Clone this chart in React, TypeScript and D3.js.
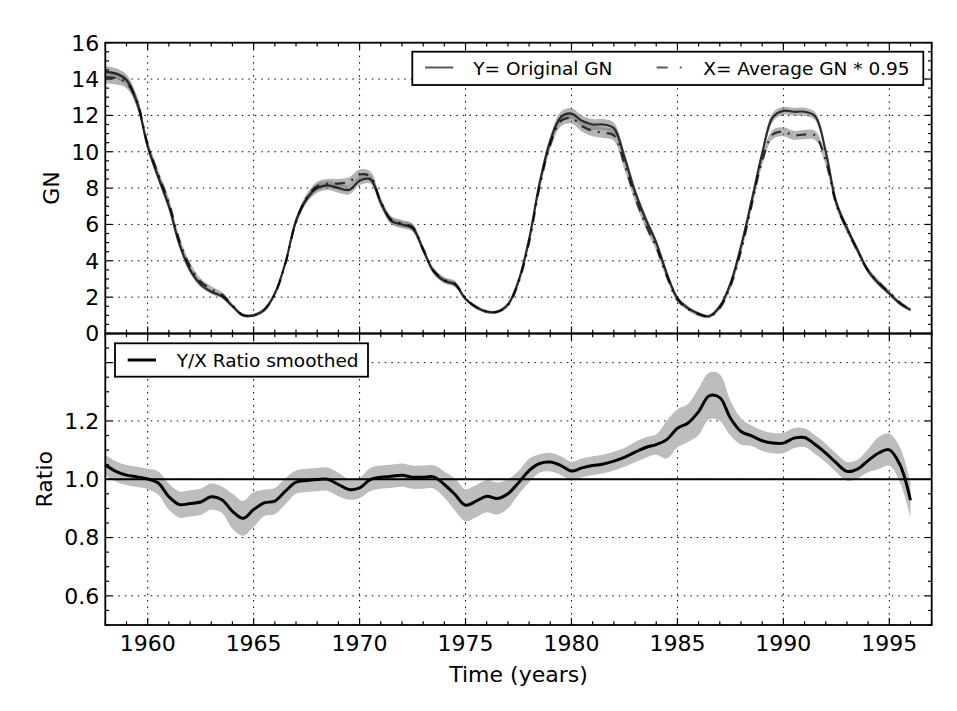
import React, { useRef, useEffect } from 'react';
import * as d3 from 'd3';

// half-year sampling of the smoothed series
const years = [
    1958.0, 1958.5, 1959.0, 1959.5, 1960.0, 1960.5, 1961.0, 1961.5, 1962.0, 1962.5,
    1963.0, 1963.5, 1964.0, 1964.5, 1965.0, 1965.5, 1966.0, 1966.5, 1967.0, 1967.5,
    1968.0, 1968.5, 1969.0, 1969.5, 1970.0, 1970.5, 1971.0, 1971.5, 1972.0, 1972.5,
    1973.0, 1973.5, 1974.0, 1974.5, 1975.0, 1975.5, 1976.0, 1976.5, 1977.0, 1977.5,
    1978.0, 1978.5, 1979.0, 1979.5, 1980.0, 1980.5, 1981.0, 1981.5, 1982.0, 1982.5,
    1983.0, 1983.5, 1984.0, 1984.5, 1985.0, 1985.5, 1986.0, 1986.5, 1987.0, 1987.5,
    1988.0, 1988.5, 1989.0, 1989.5, 1990.0, 1990.5, 1991.0, 1991.5, 1992.0, 1992.5,
    1993.0, 1993.5, 1994.0, 1994.5, 1995.0, 1995.5, 1996.0,
];

// Y = original GN
const gnOrig = [
    14.4, 14.3, 13.95, 12.7, 10.3, 8.6, 7.0, 4.9, 3.5, 2.7,
    2.3, 2.05, 1.5, 1.0, 1.0, 1.3, 2.2, 3.9, 6.2, 7.4,
    8.0, 8.15, 8.0, 7.9, 8.4, 8.5, 7.2, 6.2, 6.0, 5.8,
    4.6, 3.4, 2.9, 2.7, 1.9, 1.45, 1.2, 1.2, 1.6, 2.9,
    5.2, 8.3, 10.6, 11.9, 12.1, 11.7, 11.5, 11.5, 11.3, 9.7,
    7.8, 6.3, 5.0, 3.3, 1.95, 1.4, 1.1, 0.95, 1.5, 2.75,
    4.8, 7.3, 9.9, 11.9, 12.25, 12.2, 12.2, 11.95, 10.0, 7.2,
    5.8, 4.6, 3.45, 2.75, 2.2, 1.65, 1.3,
];
const gnOrigErr = [
    0.3, 0.3, 0.3, 0.3, 0.25, 0.25, 0.25, 0.2, 0.18, 0.15,
    0.12, 0.12, 0.1, 0.08, 0.08, 0.1, 0.12, 0.15, 0.2, 0.22,
    0.25, 0.25, 0.25, 0.25, 0.25, 0.25, 0.22, 0.2, 0.2, 0.2,
    0.18, 0.15, 0.15, 0.15, 0.1, 0.1, 0.08, 0.08, 0.1, 0.15,
    0.2, 0.25, 0.28, 0.3, 0.3, 0.3, 0.3, 0.3, 0.3, 0.28,
    0.25, 0.22, 0.2, 0.18, 0.12, 0.1, 0.08, 0.08, 0.1, 0.15,
    0.2, 0.22, 0.25, 0.25, 0.22, 0.22, 0.22, 0.22, 0.25, 0.22,
    0.2, 0.18, 0.15, 0.15, 0.12, 0.1, 0.08,
];

// X = average GN * 0.95
const gnAvg = [
    14.1, 14.05, 13.8, 12.75, 10.4, 8.75, 7.2, 5.1, 3.7, 2.85,
    2.45, 2.15, 1.55, 1.02, 1.0, 1.3, 2.15, 3.85, 6.15, 7.45,
    8.1, 8.25, 8.25, 8.35, 8.75, 8.65, 7.25, 6.25, 6.05, 5.85,
    4.65, 3.45, 2.95, 2.75, 1.95, 1.45, 1.2, 1.2, 1.55, 2.8,
    5.0, 8.1, 10.4, 11.7, 11.85, 11.4, 11.15, 11.05, 10.9, 9.3,
    7.5, 6.0, 4.75, 3.15, 1.85, 1.35, 1.05, 0.95, 1.4, 2.6,
    4.55, 7.05, 9.5, 10.95, 11.1, 10.9, 10.95, 10.9, 9.5, 7.1,
    5.75, 4.55, 3.45, 2.8, 2.25, 1.7, 1.3,
];
const gnAvgErr = [
    0.35, 0.35, 0.3, 0.3, 0.25, 0.25, 0.25, 0.22, 0.2, 0.17,
    0.15, 0.14, 0.1, 0.08, 0.08, 0.1, 0.12, 0.15, 0.2, 0.22,
    0.25, 0.25, 0.25, 0.25, 0.28, 0.28, 0.22, 0.2, 0.2, 0.2,
    0.18, 0.15, 0.15, 0.15, 0.1, 0.1, 0.08, 0.08, 0.1, 0.15,
    0.2, 0.25, 0.28, 0.3, 0.3, 0.3, 0.3, 0.3, 0.3, 0.28,
    0.25, 0.22, 0.2, 0.18, 0.12, 0.1, 0.1, 0.1, 0.1, 0.15,
    0.2, 0.22, 0.25, 0.25, 0.25, 0.25, 0.25, 0.25, 0.25, 0.22,
    0.2, 0.18, 0.15, 0.15, 0.12, 0.1, 0.08,
];

// Y/X ratio, smoothed
const ratio = [
    1.05, 1.027, 1.014, 1.008, 1.001, 0.987, 0.94, 0.913, 0.917, 0.922,
    0.94, 0.93, 0.89, 0.866, 0.896, 0.919, 0.925, 0.959, 0.99, 0.996,
    0.999, 1.0, 0.982, 0.965, 0.97, 0.999, 1.007, 1.01, 1.014, 1.007,
    1.007, 1.008, 0.982, 0.948, 0.911, 0.925, 0.942, 0.934, 0.95, 0.988,
    1.03, 1.054, 1.059, 1.047, 1.028, 1.039, 1.047, 1.052, 1.062, 1.075,
    1.093, 1.109, 1.119, 1.136, 1.175, 1.193, 1.232, 1.286, 1.28, 1.21,
    1.164, 1.149, 1.132, 1.124, 1.124, 1.141, 1.143, 1.119, 1.09, 1.056,
    1.027, 1.035, 1.064, 1.09, 1.101, 1.05, 0.928,
];
const ratioErr = [
    0.035, 0.035, 0.035, 0.035, 0.035, 0.04, 0.045, 0.045, 0.045, 0.045,
    0.045, 0.045, 0.06, 0.06, 0.06, 0.045, 0.045, 0.045, 0.04, 0.04,
    0.04, 0.04, 0.04, 0.035, 0.035, 0.04, 0.04, 0.04, 0.04, 0.04,
    0.04, 0.04, 0.045, 0.055, 0.055, 0.055, 0.055, 0.055, 0.05, 0.04,
    0.04, 0.032, 0.032, 0.032, 0.032, 0.032, 0.032, 0.032, 0.032, 0.032,
    0.035, 0.035, 0.035, 0.065, 0.065, 0.065, 0.08, 0.08, 0.08, 0.06,
    0.045, 0.035, 0.035, 0.035, 0.035, 0.035, 0.032, 0.032, 0.032, 0.032,
    0.032, 0.032, 0.04, 0.055, 0.055, 0.06, 0.06,
];

const xMajor = [1960, 1965, 1970, 1975, 1980, 1985, 1990, 1995];
const xMinor = d3.range(1958, 1998, 1);
const gnMajor = [0, 2, 4, 6, 8, 10, 12, 14, 16];
const gnMinor = d3.range(0, 16.01, 0.5);
const ratioMajor = [0.6, 0.8, 1.0, 1.2, 1.4];
const ratioLabels = [0.6, 0.8, 1.0, 1.2];
const ratioMinor = d3.range(0.5, 1.501, 0.05);

const FONT = 'DejaVu Sans, sans-serif';

const App: React.FC = () => {
    const svgRef = useRef<SVGSVGElement | null>(null);

    useEffect(() => {
        const svg = d3.select(svgRef.current);
        svg.selectAll('*').remove();

        const left = 105.3, right = 931.7;
        const top1 = 42.7, bot1 = 333.5, top2 = 333.5, bot2 = 625;

        const x = d3.scaleLinear().domain([1958, 1997]).range([left, right]);
        const yGn = d3.scaleLinear().domain([0, 16]).range([bot1, top1]);
        const yRatio = d3.scaleLinear().domain([0.5, 1.5]).range([bot2, top2]);

        const drawGrid = (y: d3.ScaleLinear<number, number>, yTicks: number[], top: number, bot: number) => {
            const g = svg.append('g')
                .attr('stroke', '#000')
                .attr('stroke-width', 1)
                .attr('stroke-dasharray', '1.5,5');
            xMajor.forEach(v => {
                g.append('line').attr('x1', x(v)).attr('x2', x(v)).attr('y1', top).attr('y2', bot);
            });
            yTicks.forEach(v => {
                g.append('line').attr('x1', left).attr('x2', right).attr('y1', y(v)).attr('y2', y(v));
            });
        };

        const drawFrame = (y: d3.ScaleLinear<number, number>, yMaj: number[], yMin: number[], top: number, bot: number) => {
            const g = svg.append('g').attr('stroke', '#000').attr('stroke-width', 1.2);
            const tick = (x1: number, y1: number, x2: number, y2: number) =>
                g.append('line').attr('x1', x1).attr('y1', y1).attr('x2', x2).attr('y2', y2);
            xMinor.forEach(v => {
                const len = xMajor.includes(v) ? 7 : 3.7;
                tick(x(v), bot, x(v), bot - len);
                tick(x(v), top, x(v), top + len);
            });
            yMin.forEach(v => {
                const major = yMaj.some(m => Math.abs(m - v) < 1e-6);
                const len = major ? 7 : 3.7;
                tick(left, y(v), left + len, y(v));
                tick(right, y(v), right - len, y(v));
            });
            svg.append('rect')
                .attr('x', left).attr('y', top)
                .attr('width', right - left).attr('height', bot - top)
                .attr('fill', 'none').attr('stroke', '#000').attr('stroke-width', 1.8);
        };

        // ---- top panel ----
        drawGrid(yGn, [2, 4, 6, 8, 10, 12, 14], top1, bot1);

        const band = (vals: number[], errs: number[], y: d3.ScaleLinear<number, number>) =>
            d3.area<number>()
                .x((_, i) => x(years[i]))
                .y0((d, i) => y(d - errs[i]))
                .y1((d, i) => y(d + errs[i]))
                .curve(d3.curveCatmullRom)(vals);

        const line = (vals: number[], y: d3.ScaleLinear<number, number>) =>
            d3.line<number>()
                .x((_, i) => x(years[i]))
                .y(d => y(d))
                .curve(d3.curveCatmullRom)(vals);

        svg.append('path').attr('d', band(gnAvg, gnAvgErr, yGn))
            .attr('fill', '#808080').attr('fill-opacity', 0.6);
        svg.append('path').attr('d', band(gnOrig, gnOrigErr, yGn))
            .attr('fill', '#808080').attr('fill-opacity', 0.6);

        svg.append('path').attr('d', line(gnAvg, yGn))
            .attr('fill', 'none').attr('stroke', '#000').attr('stroke-opacity', 0.75)
            .attr('stroke-width', 2.2).attr('stroke-dasharray', '10,7,2,7');
        svg.append('path').attr('d', line(gnOrig, yGn))
            .attr('fill', 'none').attr('stroke', '#000').attr('stroke-opacity', 0.75)
            .attr('stroke-width', 2.2);

        drawFrame(yGn, gnMajor, gnMinor, top1, bot1);

        // ---- bottom panel ----
        drawGrid(yRatio, ratioMajor, top2, bot2);

        svg.append('path').attr('d', band(ratio, ratioErr, yRatio)).attr('fill', '#bdbdbd');
        svg.append('line')
            .attr('x1', left).attr('x2', right)
            .attr('y1', yRatio(1)).attr('y2', yRatio(1))
            .attr('stroke', '#000').attr('stroke-width', 1.8);
        svg.append('path').attr('d', line(ratio, yRatio))
            .attr('fill', 'none').attr('stroke', '#000').attr('stroke-width', 3);

        drawFrame(yRatio, ratioMajor, ratioMinor, top2, bot2);

        // ---- tick labels ----
        const labels = svg.append('g').attr('font-family', FONT).attr('font-size', 22).attr('fill', '#000');
        gnMajor.forEach(v => {
            labels.append('text').attr('x', left - 6).attr('y', yGn(v)).attr('dy', '0.36em')
                .attr('text-anchor', 'end').text(String(v));
        });
        ratioLabels.forEach(v => {
            labels.append('text').attr('x', left - 6).attr('y', yRatio(v)).attr('dy', '0.36em')
                .attr('text-anchor', 'end').text(d3.format('.1f')(v));
        });
        xMajor.forEach(v => {
            labels.append('text').attr('x', x(v)).attr('y', bot2 + 26)
                .attr('text-anchor', 'middle').text(String(v));
        });

        labels.append('text').attr('x', (left + right) / 2).attr('y', 682)
            .attr('text-anchor', 'middle').text('Time (years)');
        labels.append('text')
            .attr('transform', `translate(59,${(top1 + bot1) / 2}) rotate(-90)`)
            .attr('text-anchor', 'middle').text('GN');
        labels.append('text')
            .attr('transform', `translate(51.5,${(top2 + bot2) / 2}) rotate(-90)`)
            .attr('text-anchor', 'middle').text('Ratio');

        // ---- legends ----
        const leg1 = svg.append('g').attr('font-family', FONT).attr('font-size', 18.5);
        leg1.append('rect').attr('x', 412.3).attr('y', 51.7).attr('width', 511).attr('height', 33.3)
            .attr('fill', '#fff').attr('stroke', '#000').attr('stroke-width', 1.8);
        leg1.append('line').attr('x1', 425).attr('x2', 453.3).attr('y1', 67.5).attr('y2', 67.5)
            .attr('stroke', '#000').attr('stroke-opacity', 0.65).attr('stroke-width', 2);
        leg1.append('text').attr('x', 473.3).attr('y', 74.5).text('Y= Original GN');
        leg1.append('line').attr('x1', 656.7).attr('x2', 684).attr('y1', 67.5).attr('y2', 67.5)
            .attr('stroke', '#000').attr('stroke-opacity', 0.65).attr('stroke-width', 2)
            .attr('stroke-dasharray', '11,12,2,12');
        leg1.append('text').attr('x', 703.3).attr('y', 74.5).text('X= Average GN * 0.95');

        const leg2 = svg.append('g').attr('font-family', FONT).attr('font-size', 18.5);
        leg2.append('rect').attr('x', 115).attr('y', 343.3).attr('width', 253).attr('height', 33.4)
            .attr('fill', '#fff').attr('stroke', '#000').attr('stroke-width', 1.8);
        leg2.append('line').attr('x1', 127.7).attr('x2', 156).attr('y1', 360).attr('y2', 360)
            .attr('stroke', '#000').attr('stroke-width', 3);
        leg2.append('text').attr('x', 176.7).attr('y', 366.8).text('Y/X Ratio smoothed');
    }, []);

    return (
        <svg
            ref={svgRef}
            width={957}
            height={711}
            style={{ position: 'absolute', left: 0, top: 0, background: '#fff' }}
        />
    );
};

export default App;
